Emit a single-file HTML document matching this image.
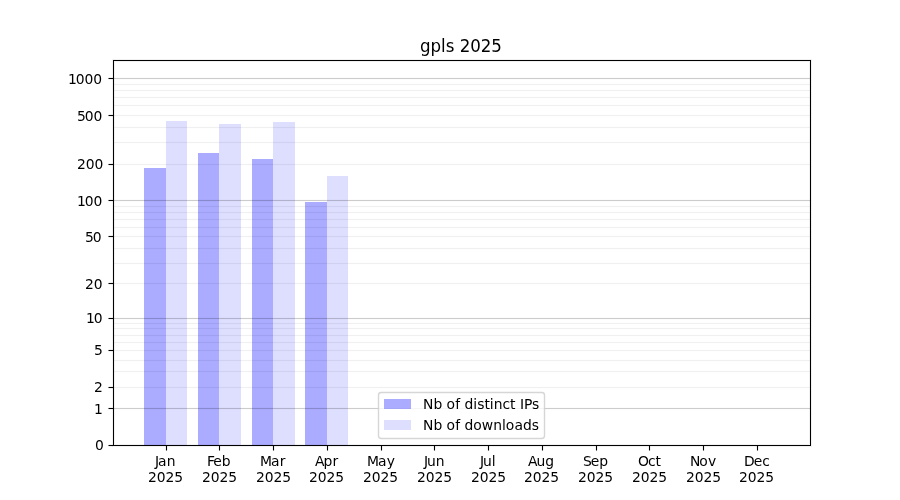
<!DOCTYPE html>
<html lang="en"><head><meta charset="utf-8"><title>gpls 2025</title>
<style>
html,body{margin:0;padding:0;background:#fff;}
body{width:900px;height:500px;overflow:hidden;}
svg{display:block;}
text{font-family:"DejaVu Sans","Liberation Sans",sans-serif;font-size:13.889px;fill:#000;white-space:pre;}
.t{font-size:16.667px;}
.c{shape-rendering:crispEdges;}
</style></head><body>
<svg width="900" height="500" viewBox="0 0 900 500">
<rect width="900" height="500" fill="#fff"/>
<g class="c">
<rect x="144" y="168" width="22" height="277" fill="#0000ff" fill-opacity="0.33"/>
<rect x="198" y="153" width="21" height="292" fill="#0000ff" fill-opacity="0.33"/>
<rect x="252" y="159" width="21" height="286" fill="#0000ff" fill-opacity="0.33"/>
<rect x="305" y="202" width="22" height="243" fill="#0000ff" fill-opacity="0.33"/>
<rect x="166" y="121" width="21" height="324" fill="#0000ff" fill-opacity="0.13"/>
<rect x="219" y="124" width="22" height="321" fill="#0000ff" fill-opacity="0.13"/>
<rect x="273" y="122" width="22" height="323" fill="#0000ff" fill-opacity="0.13"/>
<rect x="327" y="176" width="21" height="269" fill="#0000ff" fill-opacity="0.13"/>
<rect x="114" y="386" width="696" height="3" fill="#000" fill-opacity="0.004"/>
<rect x="114" y="387" width="696" height="1" fill="#000" fill-opacity="0.056"/>
<rect x="114" y="370" width="696" height="3" fill="#000" fill-opacity="0.004"/>
<rect x="114" y="371" width="696" height="1" fill="#000" fill-opacity="0.056"/>
<rect x="114" y="359" width="696" height="3" fill="#000" fill-opacity="0.004"/>
<rect x="114" y="360" width="696" height="1" fill="#000" fill-opacity="0.056"/>
<rect x="114" y="349" width="696" height="3" fill="#000" fill-opacity="0.004"/>
<rect x="114" y="350" width="696" height="1" fill="#000" fill-opacity="0.056"/>
<rect x="114" y="341" width="696" height="3" fill="#000" fill-opacity="0.004"/>
<rect x="114" y="342" width="696" height="1" fill="#000" fill-opacity="0.056"/>
<rect x="114" y="334" width="696" height="3" fill="#000" fill-opacity="0.004"/>
<rect x="114" y="335" width="696" height="1" fill="#000" fill-opacity="0.056"/>
<rect x="114" y="327" width="696" height="3" fill="#000" fill-opacity="0.004"/>
<rect x="114" y="328" width="696" height="1" fill="#000" fill-opacity="0.056"/>
<rect x="114" y="322" width="696" height="3" fill="#000" fill-opacity="0.004"/>
<rect x="114" y="323" width="696" height="1" fill="#000" fill-opacity="0.056"/>
<rect x="114" y="282" width="696" height="3" fill="#000" fill-opacity="0.004"/>
<rect x="114" y="283" width="696" height="1" fill="#000" fill-opacity="0.056"/>
<rect x="114" y="262" width="696" height="3" fill="#000" fill-opacity="0.004"/>
<rect x="114" y="263" width="696" height="1" fill="#000" fill-opacity="0.056"/>
<rect x="114" y="247" width="696" height="3" fill="#000" fill-opacity="0.004"/>
<rect x="114" y="248" width="696" height="1" fill="#000" fill-opacity="0.056"/>
<rect x="114" y="235" width="696" height="3" fill="#000" fill-opacity="0.004"/>
<rect x="114" y="236" width="696" height="1" fill="#000" fill-opacity="0.056"/>
<rect x="114" y="226" width="696" height="3" fill="#000" fill-opacity="0.004"/>
<rect x="114" y="227" width="696" height="1" fill="#000" fill-opacity="0.056"/>
<rect x="114" y="218" width="696" height="3" fill="#000" fill-opacity="0.004"/>
<rect x="114" y="219" width="696" height="1" fill="#000" fill-opacity="0.056"/>
<rect x="114" y="211" width="696" height="3" fill="#000" fill-opacity="0.004"/>
<rect x="114" y="212" width="696" height="1" fill="#000" fill-opacity="0.056"/>
<rect x="114" y="205" width="696" height="3" fill="#000" fill-opacity="0.004"/>
<rect x="114" y="206" width="696" height="1" fill="#000" fill-opacity="0.056"/>
<rect x="114" y="163" width="696" height="3" fill="#000" fill-opacity="0.004"/>
<rect x="114" y="164" width="696" height="1" fill="#000" fill-opacity="0.056"/>
<rect x="114" y="141" width="696" height="3" fill="#000" fill-opacity="0.004"/>
<rect x="114" y="142" width="696" height="1" fill="#000" fill-opacity="0.056"/>
<rect x="114" y="126" width="696" height="3" fill="#000" fill-opacity="0.004"/>
<rect x="114" y="127" width="696" height="1" fill="#000" fill-opacity="0.056"/>
<rect x="114" y="114" width="696" height="3" fill="#000" fill-opacity="0.004"/>
<rect x="114" y="115" width="696" height="1" fill="#000" fill-opacity="0.056"/>
<rect x="114" y="104" width="696" height="3" fill="#000" fill-opacity="0.004"/>
<rect x="114" y="105" width="696" height="1" fill="#000" fill-opacity="0.056"/>
<rect x="114" y="96" width="696" height="3" fill="#000" fill-opacity="0.004"/>
<rect x="114" y="97" width="696" height="1" fill="#000" fill-opacity="0.056"/>
<rect x="114" y="89" width="696" height="3" fill="#000" fill-opacity="0.004"/>
<rect x="114" y="90" width="696" height="1" fill="#000" fill-opacity="0.056"/>
<rect x="114" y="83" width="696" height="3" fill="#000" fill-opacity="0.004"/>
<rect x="114" y="84" width="696" height="1" fill="#000" fill-opacity="0.056"/>
<rect x="114" y="407" width="696" height="3" fill="#000" fill-opacity="0.012"/>
<rect x="114" y="408" width="696" height="1" fill="#000" fill-opacity="0.19"/>
<rect x="114" y="317" width="696" height="3" fill="#000" fill-opacity="0.012"/>
<rect x="114" y="318" width="696" height="1" fill="#000" fill-opacity="0.19"/>
<rect x="114" y="199" width="696" height="3" fill="#000" fill-opacity="0.012"/>
<rect x="114" y="200" width="696" height="1" fill="#000" fill-opacity="0.19"/>
<rect x="114" y="77" width="696" height="3" fill="#000" fill-opacity="0.012"/>
<rect x="114" y="78" width="696" height="1" fill="#000" fill-opacity="0.19"/>
</g>
<rect x="378.5" y="392.5" width="166" height="46" rx="2.78" ry="2.78" fill="#fff" fill-opacity="0.8" stroke="#ccc" stroke-opacity="0.8" stroke-width="1.389"/>
<g class="c"><rect x="384" y="399" width="27" height="10" fill="#0000ff" fill-opacity="0.33"/><rect x="384" y="420" width="27" height="10" fill="#0000ff" fill-opacity="0.13"/></g>
<g class="c" fill="#000">
<rect x="113" y="60" width="698" height="1"/><rect x="113" y="445" width="698" height="1"/><rect x="113" y="60" width="1" height="386"/><rect x="810" y="60" width="1" height="386"/>
</g><g fill="#000" fill-opacity="0.055" class="c">
<rect x="112" y="59" width="700" height="1"/><rect x="112" y="446" width="700" height="1"/><rect x="114" y="61" width="696" height="1"/><rect x="114" y="444" width="696" height="1"/>
<rect x="112" y="60" width="1" height="386"/><rect x="811" y="60" width="1" height="386"/><rect x="114" y="62" width="1" height="382"/><rect x="809" y="62" width="1" height="382"/>
</g><g class="c" fill="#000">
<rect x="109" y="445" width="4" height="1"/><rect x="108" y="445" width="1" height="1" fill-opacity="0.5"/>
<rect x="109" y="444" width="4" height="3" fill-opacity="0.055"/><rect x="108" y="444" width="1" height="3" fill-opacity="0.0275"/>
<rect x="109" y="408" width="4" height="1"/><rect x="108" y="408" width="1" height="1" fill-opacity="0.5"/>
<rect x="109" y="407" width="4" height="3" fill-opacity="0.055"/><rect x="108" y="407" width="1" height="3" fill-opacity="0.0275"/>
<rect x="109" y="387" width="4" height="1"/><rect x="108" y="387" width="1" height="1" fill-opacity="0.5"/>
<rect x="109" y="386" width="4" height="3" fill-opacity="0.055"/><rect x="108" y="386" width="1" height="3" fill-opacity="0.0275"/>
<rect x="109" y="350" width="4" height="1"/><rect x="108" y="350" width="1" height="1" fill-opacity="0.5"/>
<rect x="109" y="349" width="4" height="3" fill-opacity="0.055"/><rect x="108" y="349" width="1" height="3" fill-opacity="0.0275"/>
<rect x="109" y="318" width="4" height="1"/><rect x="108" y="318" width="1" height="1" fill-opacity="0.5"/>
<rect x="109" y="317" width="4" height="3" fill-opacity="0.055"/><rect x="108" y="317" width="1" height="3" fill-opacity="0.0275"/>
<rect x="109" y="283" width="4" height="1"/><rect x="108" y="283" width="1" height="1" fill-opacity="0.5"/>
<rect x="109" y="282" width="4" height="3" fill-opacity="0.055"/><rect x="108" y="282" width="1" height="3" fill-opacity="0.0275"/>
<rect x="109" y="236" width="4" height="1"/><rect x="108" y="236" width="1" height="1" fill-opacity="0.5"/>
<rect x="109" y="235" width="4" height="3" fill-opacity="0.055"/><rect x="108" y="235" width="1" height="3" fill-opacity="0.0275"/>
<rect x="109" y="200" width="4" height="1"/><rect x="108" y="200" width="1" height="1" fill-opacity="0.5"/>
<rect x="109" y="199" width="4" height="3" fill-opacity="0.055"/><rect x="108" y="199" width="1" height="3" fill-opacity="0.0275"/>
<rect x="109" y="164" width="4" height="1"/><rect x="108" y="164" width="1" height="1" fill-opacity="0.5"/>
<rect x="109" y="163" width="4" height="3" fill-opacity="0.055"/><rect x="108" y="163" width="1" height="3" fill-opacity="0.0275"/>
<rect x="109" y="115" width="4" height="1"/><rect x="108" y="115" width="1" height="1" fill-opacity="0.5"/>
<rect x="109" y="114" width="4" height="3" fill-opacity="0.055"/><rect x="108" y="114" width="1" height="3" fill-opacity="0.0275"/>
<rect x="109" y="78" width="4" height="1"/><rect x="108" y="78" width="1" height="1" fill-opacity="0.5"/>
<rect x="109" y="77" width="4" height="3" fill-opacity="0.055"/><rect x="108" y="77" width="1" height="3" fill-opacity="0.0275"/>
<rect x="166" y="446" width="1" height="4"/><rect x="166" y="450" width="1" height="1" fill-opacity="0.5"/>
<rect x="165" y="446" width="3" height="4" fill-opacity="0.055"/><rect x="165" y="450" width="3" height="1" fill-opacity="0.0275"/>
<rect x="219" y="446" width="1" height="4"/><rect x="219" y="450" width="1" height="1" fill-opacity="0.5"/>
<rect x="218" y="446" width="3" height="4" fill-opacity="0.055"/><rect x="218" y="450" width="3" height="1" fill-opacity="0.0275"/>
<rect x="273" y="446" width="1" height="4"/><rect x="273" y="450" width="1" height="1" fill-opacity="0.5"/>
<rect x="272" y="446" width="3" height="4" fill-opacity="0.055"/><rect x="272" y="450" width="3" height="1" fill-opacity="0.0275"/>
<rect x="327" y="446" width="1" height="4"/><rect x="327" y="450" width="1" height="1" fill-opacity="0.5"/>
<rect x="326" y="446" width="3" height="4" fill-opacity="0.055"/><rect x="326" y="450" width="3" height="1" fill-opacity="0.0275"/>
<rect x="381" y="446" width="1" height="4"/><rect x="381" y="450" width="1" height="1" fill-opacity="0.5"/>
<rect x="380" y="446" width="3" height="4" fill-opacity="0.055"/><rect x="380" y="450" width="3" height="1" fill-opacity="0.0275"/>
<rect x="434" y="446" width="1" height="4"/><rect x="434" y="450" width="1" height="1" fill-opacity="0.5"/>
<rect x="433" y="446" width="3" height="4" fill-opacity="0.055"/><rect x="433" y="450" width="3" height="1" fill-opacity="0.0275"/>
<rect x="488" y="446" width="1" height="4"/><rect x="488" y="450" width="1" height="1" fill-opacity="0.5"/>
<rect x="487" y="446" width="3" height="4" fill-opacity="0.055"/><rect x="487" y="450" width="3" height="1" fill-opacity="0.0275"/>
<rect x="542" y="446" width="1" height="4"/><rect x="542" y="450" width="1" height="1" fill-opacity="0.5"/>
<rect x="541" y="446" width="3" height="4" fill-opacity="0.055"/><rect x="541" y="450" width="3" height="1" fill-opacity="0.0275"/>
<rect x="596" y="446" width="1" height="4"/><rect x="596" y="450" width="1" height="1" fill-opacity="0.5"/>
<rect x="595" y="446" width="3" height="4" fill-opacity="0.055"/><rect x="595" y="450" width="3" height="1" fill-opacity="0.0275"/>
<rect x="649" y="446" width="1" height="4"/><rect x="649" y="450" width="1" height="1" fill-opacity="0.5"/>
<rect x="648" y="446" width="3" height="4" fill-opacity="0.055"/><rect x="648" y="450" width="3" height="1" fill-opacity="0.0275"/>
<rect x="703" y="446" width="1" height="4"/><rect x="703" y="450" width="1" height="1" fill-opacity="0.5"/>
<rect x="702" y="446" width="3" height="4" fill-opacity="0.055"/><rect x="702" y="450" width="3" height="1" fill-opacity="0.0275"/>
<rect x="757" y="446" width="1" height="4"/><rect x="757" y="450" width="1" height="1" fill-opacity="0.5"/>
<rect x="756" y="446" width="3" height="4" fill-opacity="0.055"/><rect x="756" y="450" width="3" height="1" fill-opacity="0.0275"/>
</g>
<text x="94.89" y="450.00">0</text>
<text x="93.89" y="414.00">1</text>
<text x="93.89" y="392.00">2</text>
<text x="93.89" y="355.00">5</text>
<text x="85.94 93.69" y="323.00">10</text>
<text x="84.94 93.69" y="289.00">20</text>
<text x="84.94 92.69" y="242.00">50</text>
<text x="76.92 84.67 93.44" y="206.00">100</text>
<text x="76.92 85.67 94.44" y="169.00">200</text>
<text x="76.92 84.67 93.44" y="121.00">500</text>
<text x="67.91 75.66 84.42 93.19" y="84.00">1000</text>
<text x="154.88 157.89 166.85" y="466.00">Jan</text>
<text x="147.92 156.67 165.43 174.14" y="482.00">2025</text>
<text x="207.02 213.18 221.65" y="466.00">Feb</text>
<text x="201.90 210.65 219.42 228.19" y="482.00">2025</text>
<text x="259.95 270.98 279.80" y="466.00">Mar</text>
<text x="255.89 264.64 273.41 282.17" y="482.00">2025</text>
<text x="314.90 323.45 332.45" y="466.00">Apr</text>
<text x="308.88 317.63 326.39 335.16" y="482.00">2025</text>
<text x="366.93 377.90 386.65" y="466.00">May</text>
<text x="362.93 371.68 380.50 389.15" y="482.00">2025</text>
<text x="423.91 426.99 435.73" y="466.00">Jun</text>
<text x="417.10 425.66 434.43 443.13" y="482.00">2025</text>
<text x="479.93 482.95 491.68" y="466.00">Jul</text>
<text x="470.90 479.65 488.42 497.18" y="482.00">2025</text>
<text x="528.00 536.54 545.28" y="466.00">Aug</text>
<text x="523.89 532.64 541.40 550.17" y="482.00">2025</text>
<text x="582.89 590.75 599.17" y="466.00">Sep</text>
<text x="577.94 586.69 595.39 604.15" y="482.00">2025</text>
<text x="637.95 647.92 655.50" y="466.00">Oct</text>
<text x="631.92 640.67 649.44 658.14" y="482.00">2025</text>
<text x="690.02 699.14 708.00" y="466.00">Nov</text>
<text x="685.91 694.66 703.42 712.13" y="482.00">2025</text>
<text x="744.00 753.73 762.21" y="466.00">Dec</text>
<text x="738.89 747.64 756.41 765.18" y="482.00">2025</text>
<text x="422.88 433.38 441.74 446.41 455.15 459.54 464.38 473.13 477.16 484.40 489.65 493.63 502.43 509.93 514.99 519.90 523.93 531.93" y="409.00">Nb of distinct IPs</text>
<text x="422.88 433.38 441.74 446.41 455.15 459.54 464.38 473.13 481.68 493.15 501.88 505.68 514.41 522.91 531.66" y="430.00">Nb of downloads</text>
<text class="t" transform="translate(0,52.00) scale(1,1.06)" x="419.93 430.43 440.88 445.70 454.62 459.66 470.13 480.68 491.15" y="0">gpls 2025</text>
</svg></body></html>
